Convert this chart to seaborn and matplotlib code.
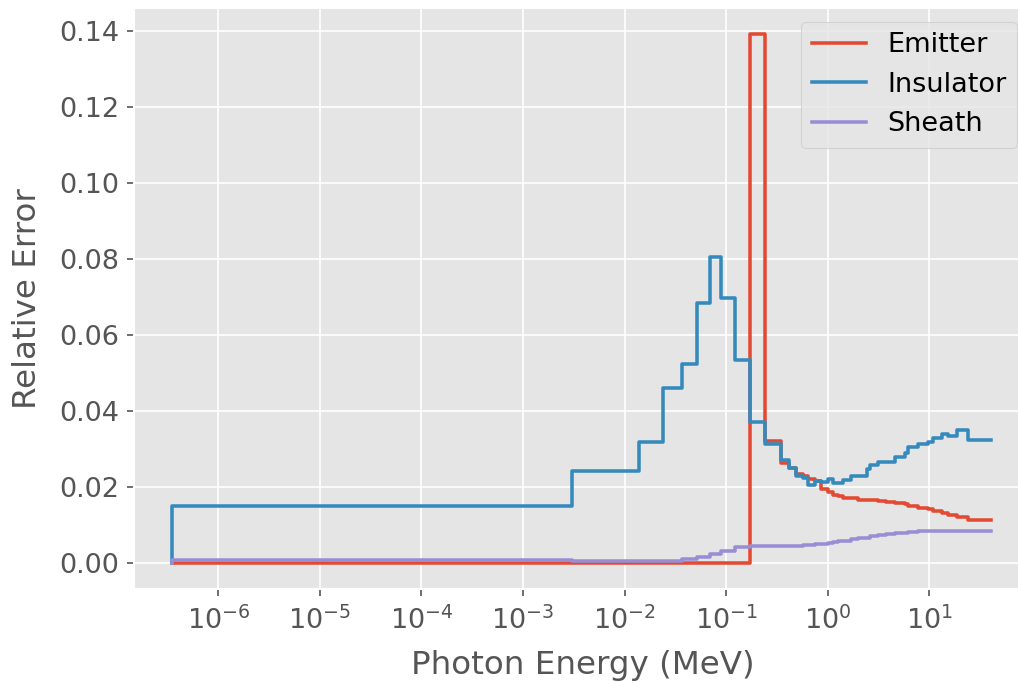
import matplotlib
matplotlib.use("Agg")
import matplotlib.pyplot as plt
import matplotlib.ticker as mticker
import seaborn as sns
import numpy as np

# Upper bin edges (MeV)
energy_mev = [3.50e-7, 3.05e-3, 1.38e-2, 2.37e-2, 3.64e-2, 5.12e-2, 6.92e-2, 8.87e-2,
              0.122, 0.173, 0.243, 0.343, 0.417, 0.489, 0.569, 0.641, 0.746, 0.855,
              1.00, 1.13, 1.26, 1.41, 1.71, 1.98, 2.41, 2.60, 3.11, 3.73, 4.57, 5.74,
              6.18, 7.71, 9.73, 10.8, 13.2, 15.3, 18.5, 24.2, 40.0]

emitter = [0, 0, 0, 0, 0, 0, 0, 0, 0, 0,
           0.139, 0.0319, 0.0262, 0.0248, 0.0233, 0.0227, 0.0221, 0.0214, 0.0194, 0.0186,
           0.0179, 0.0175, 0.0171, 0.0169, 0.0166, 0.0166, 0.0166, 0.0162, 0.0160, 0.0157,
           0.0154, 0.0149, 0.0144, 0.0140, 0.0135, 0.0131, 0.0126, 0.0120, 0.0113]

insulator = [0, 0.0150, 0.0240, 0.0317, 0.0459, 0.0523, 0.0683, 0.0803, 0.0697, 0.0532,
             0.0369, 0.0312, 0.0269, 0.0249, 0.0227, 0.0223, 0.0204, 0.0214, 0.0212, 0.0219,
             0.0210, 0.0210, 0.0217, 0.0227, 0.0227, 0.0245, 0.0258, 0.0264, 0.0264, 0.0277,
             0.0289, 0.0305, 0.0311, 0.0317, 0.0328, 0.0339, 0.0334, 0.0349, 0.0322]

sheath = [0, 0.0006, 0.0005, 0.0005, 0.0005, 0.0010, 0.0016, 0.0023, 0.0031, 0.0041,
          0.0044, 0.0043, 0.0043, 0.0043, 0.0044, 0.0045, 0.0046, 0.0048, 0.0050, 0.0052,
          0.0054, 0.0056, 0.0058, 0.0061, 0.0064, 0.0066, 0.0069, 0.0072, 0.0075, 0.0078,
          0.0079, 0.0081, 0.0082, 0.0083, 0.0083, 0.0083, 0.0083, 0.0082, 0.0082]

x_ticks = [1e-6, 1e-5, 1e-4, 1e-3, 1e-2, 1e-1, 1e0, 1e1]

series_names = ["Emitter", "Insulator", "Sheath"]
series_values = [emitter, insulator, sheath]
series_colors = ["#E24A33", "#348ABD", "#988ED5"]

plt.style.use("ggplot")
plt.rcParams["font.family"] = ["DejaVu Sans"]
plt.rcParams["font.size"] = 13

W, H, DPI = 1018, 683, 150
fig = plt.figure(figsize=(W / DPI, H / DPI), dpi=DPI)
left, right, top, bottom = 134, 1031, 8, 589
ax = fig.add_axes([left / W, (H - bottom) / H, (right - left) / W, (bottom - top) / H])

for name, vals, col in zip(series_names, series_values, series_colors):
    sns.lineplot(x=energy_mev, y=vals, ax=ax, color=col, label=name,
                 drawstyle="steps-pre", estimator=None, errorbar=None, linewidth=1.7)

ax.set_xscale("log")
ax.set_xlim(10 ** -6.83, 10 ** 2.0)
ax.margins(y=0.05)
ax.xaxis.set_major_locator(mticker.FixedLocator(x_ticks))
ax.xaxis.set_major_formatter(mticker.LogFormatterSciNotation())
ax.xaxis.set_minor_locator(mticker.NullLocator())
ax.tick_params(axis="x", pad=5)
ax.set_xlabel("Photon Energy (MeV)", labelpad=7)
ax.set_ylabel("Relative Error", labelpad=8)
ax.legend(loc="upper right")

fig.savefig("out.png", dpi=DPI)
